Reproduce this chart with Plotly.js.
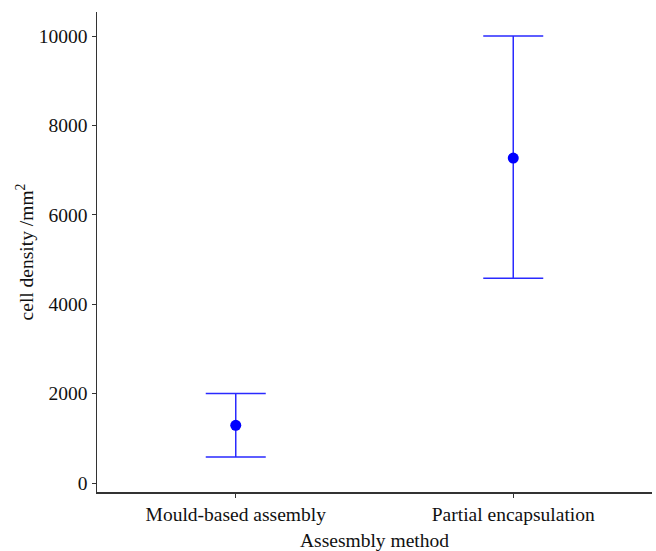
<!DOCTYPE html>
<html><head><meta charset="utf-8">
<script src="https://cdn.plot.ly/plotly-3.0.1.min.js"></script>
<style>body{margin:0;background:#fff}#plot{width:656px;height:551px}</style>
</head><body><div id="plot"></div>
<script>
const categories = ["Mould-based assembly", "Partial encapsulation"];
const means = [1290, 7270];
const upper = [2000, 10000];
const lower = [580, 4580];
const yTicks = [0, 2000, 4000, 6000, 8000, 10000];
const yTickText = ["0", "2000", "4000", "6000", "8000", "10000"];

const trace = {
  type: "scatter", mode: "markers",
  x: categories, y: means,
  marker: {color: "#0000ff", size: 11},
  error_y: {
    type: "data", symmetric: false,
    array: upper.map((u, i) => u - means[i]),
    arrayminus: means.map((m, i) => m - lower[i]),
    color: "#2a2aff", thickness: 1.5, width: 30
  },
  showlegend: false
};
const font = {family: "Liberation Serif, Times New Roman, serif", size: 19.5, color: "#111"};
const layout = {
  width: 656, height: 551,
  margin: {l: 97, r: 4, t: 12, b: 59},
  paper_bgcolor: "#fff", plot_bgcolor: "#fff",
  font: font,
  xaxis: {
    range: [-0.5, 1.5], showgrid: false, zeroline: false,
    showline: true, linecolor: "#333", linewidth: 1.5,
    ticks: "outside", ticklen: 4, tickcolor: "#333",
    tickfont: font,
    title: {text: "Assesmbly method", font: font, standoff: 11}
  },
  yaxis: {
    range: [-201, 10537], showgrid: false, zeroline: false,
    showline: true, linecolor: "#333", linewidth: 1.5,
    ticks: "outside", ticklen: 4, tickcolor: "#333",
    tickvals: yTicks, ticktext: yTickText,
    tickfont: font,
    title: {text: "cell density /mm<sup>2</sup>", font: font, standoff: 0}
  }
};
Plotly.newPlot("plot", [trace], layout, {displayModeBar: false, staticPlot: true});
</script></body></html>
